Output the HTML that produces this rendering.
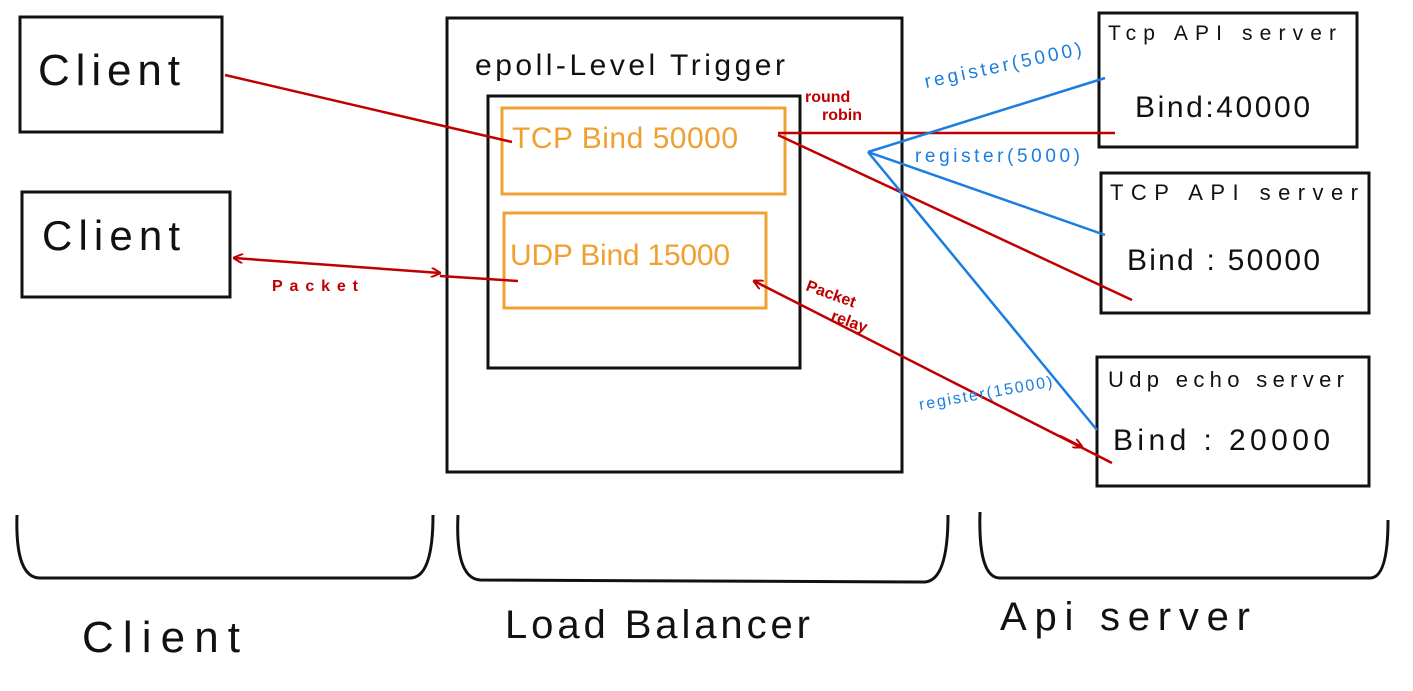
<!DOCTYPE html>
<html><head><style>html,body{margin:0;padding:0;background:#fff;}svg{display:block}</style></head>
<body>
<svg width="1413" height="691" viewBox="0 0 1413 691" xmlns="http://www.w3.org/2000/svg" font-family="Liberation Sans, sans-serif">
<defs>
<marker id="ar" markerWidth="10" markerHeight="10" refX="9" refY="5" orient="auto" markerUnits="userSpaceOnUse"><path d="M0,0 L10,5 L0,10" fill="none" stroke="#c00000" stroke-width="2"/></marker>
<marker id="al" markerWidth="10" markerHeight="10" refX="1" refY="5" orient="auto" markerUnits="userSpaceOnUse"><path d="M10,0 L0,5 L10,10" fill="none" stroke="#c00000" stroke-width="2"/></marker>
</defs>
<g fill="none" stroke="#111" stroke-width="3">
<rect x="20" y="17" width="202" height="115"/>
<rect x="22" y="192" width="208" height="105"/>
<rect x="447" y="18" width="455" height="454"/>
<rect x="488" y="96" width="312" height="272"/>
<rect x="1099" y="13" width="258" height="134"/>
<rect x="1101" y="173" width="268" height="140"/>
<rect x="1097" y="357" width="272" height="129"/>
<path d="M17,515 Q15,578 40,578 L410,578 Q433,578 433,515"/>
<path d="M458,515 Q455,578 480,580 L925,582 Q948,580 948,515"/>
<path d="M980,512 Q978,578 1000,578 L1370,578 Q1388,578 1388,520"/>
</g>
<g fill="none" stroke="#f0a030" stroke-width="3">
<rect x="502" y="108" width="283" height="86"/>
<rect x="504" y="213" width="262" height="95"/>
</g>
<g stroke="#c00000" stroke-width="2.5" fill="none">
<line x1="225" y1="75" x2="512" y2="142"/>
<line x1="778" y1="133" x2="1115" y2="133"/>
<line x1="778" y1="135" x2="1132" y2="300"/>
<line x1="234" y1="258" x2="440" y2="273" marker-start="url(#al)" marker-end="url(#ar)"/>
<line x1="440" y1="276" x2="518" y2="281"/>
<line x1="754" y1="281" x2="1112" y2="463" marker-start="url(#al)"/>
<line x1="1060" y1="436" x2="1082" y2="447" marker-end="url(#ar)"/>
</g>
<g stroke="#1a7de0" stroke-width="2.5" fill="none">
<line x1="868" y1="152" x2="1105" y2="78"/>
<line x1="868" y1="152" x2="1105" y2="235"/>
<line x1="868" y1="152" x2="1097" y2="430"/>
</g>
<g fill="#111">
<text x="38" y="85" font-size="44" textLength="142" lengthAdjust="spacing">Client</text>
<text x="42" y="250" font-size="42" textLength="138" lengthAdjust="spacing">Client</text>
<text x="475" y="75" font-size="30" textLength="310" lengthAdjust="spacing">epoll-Level Trigger</text>
<text x="1108" y="40" font-size="21" textLength="228" lengthAdjust="spacing">Tcp API  server</text>
<text x="1135" y="117" font-size="30" textLength="175" lengthAdjust="spacing">Bind:40000</text>
<text x="1110" y="200" font-size="22" textLength="248" lengthAdjust="spacing">TCP API  server</text>
<text x="1127" y="270" font-size="30" textLength="193" lengthAdjust="spacing">Bind : 50000</text>
<text x="1108" y="387" font-size="22" textLength="236" lengthAdjust="spacing">Udp echo server</text>
<text x="1113" y="450" font-size="30" textLength="217" lengthAdjust="spacing">Bind : 20000</text>
<text x="82" y="652" font-size="44" textLength="158" lengthAdjust="spacing">Client</text>
<text x="505" y="638" font-size="40" textLength="305" lengthAdjust="spacing">Load Balancer</text>
<text x="1000" y="630" font-size="40" textLength="250" lengthAdjust="spacing">Api server</text>
</g>
<g fill="#f0a030">
<text x="512" y="148" font-size="30" textLength="226" lengthAdjust="spacing">TCP Bind 50000</text>
<text x="510" y="265" font-size="30" textLength="220" lengthAdjust="spacing">UDP Bind 15000</text>
</g>
<g fill="#c00000" font-size="16" font-weight="bold">
<text x="805" y="102">round</text>
<text x="822" y="120">robin</text>
<text x="272" y="291" textLength="86" lengthAdjust="spacing">Packet</text>
<text x="805" y="290" transform="rotate(20 805 290)">Packet</text>
<text x="830" y="320" transform="rotate(20 830 320)">relay</text>
</g>
<g fill="#1a7de0" font-size="19">
<text x="926" y="88" transform="rotate(-12 926 88)" textLength="160" lengthAdjust="spacing">register(5000)</text>
<text x="915" y="162" textLength="165" lengthAdjust="spacing">register(5000)</text>
<text x="920" y="410" font-size="16" transform="rotate(-10 920 410)" textLength="135" lengthAdjust="spacing">register(15000)</text>
</g>
</svg>
</body></html>
